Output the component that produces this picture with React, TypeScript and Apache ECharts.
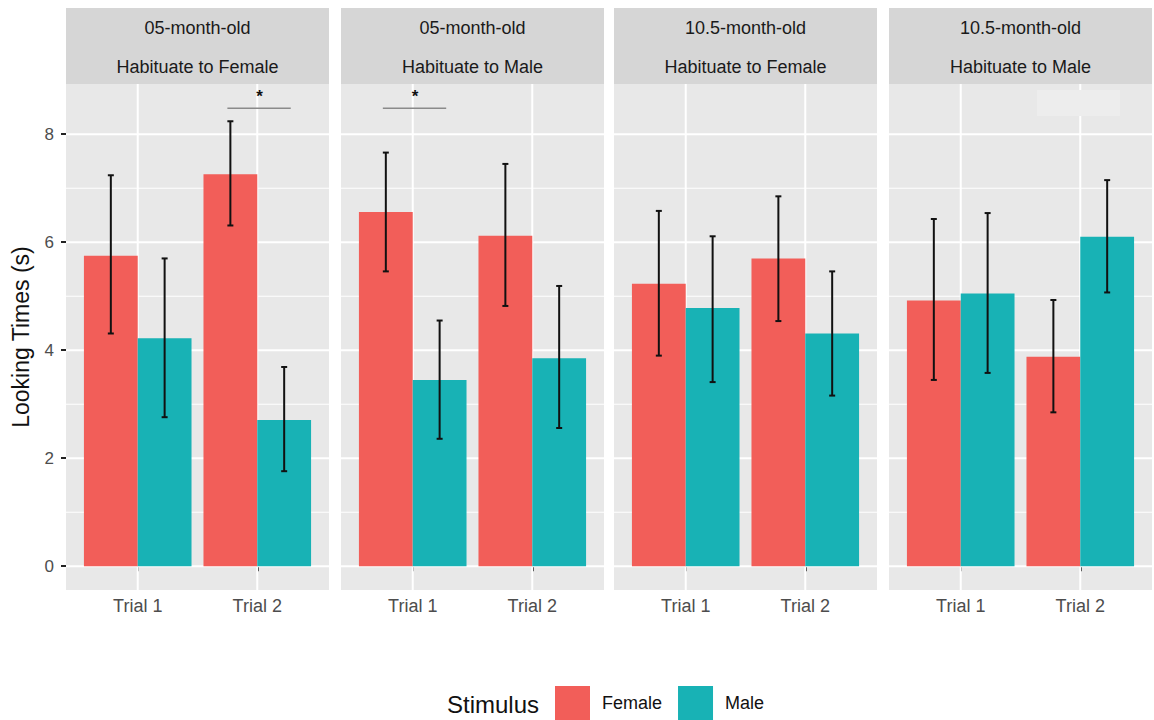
import React, { useEffect, useRef } from "react";
import * as echarts from "echarts";

const ageLabels = ["05-month-old", "05-month-old", "10.5-month-old", "10.5-month-old"];
const habLabels = ["Habituate to Female", "Habituate to Male", "Habituate to Female", "Habituate to Male"];
const trialLabels = ["Trial 1", "Trial 2"];
const trialPositions = [1, 2];
const stimulusNames = ["Female", "Male"];

const femaleMeans = [[5.75, 7.26], [6.56, 6.12], [5.23, 5.7], [4.92, 3.88]];
const femaleLow = [[4.31, 6.31], [5.46, 4.82], [3.9, 4.54], [3.45, 2.85]];
const femaleHigh = [[7.24, 8.24], [7.66, 7.45], [6.58, 6.85], [6.43, 4.93]];
const maleMeans = [[4.22, 2.71], [3.45, 3.85], [4.78, 4.31], [5.05, 6.1]];
const maleLow = [[2.76, 1.76], [2.36, 2.56], [3.41, 3.16], [3.58, 5.07]];
const maleHigh = [[5.7, 3.69], [4.55, 5.19], [6.11, 5.46], [6.54, 7.15]];

const sigPanels = [0, 1];
const sigTrials = [2, 1];
const sigLevel = 8.48;
const sigLabel = "*";

const yMajor = [0, 2, 4, 6, 8];
const yMinor = [1, 3, 5, 7];

const FONT = "Liberation Sans, Arial, sans-serif";
const COLORS = ["#F25E59", "#18B2B5"];
const PANEL_LEFT = [66, 341, 614, 889];
const PANEL_W = 263;
const PANEL_TOP = 84;
const PANEL_BOTTOM = 590;
const STRIP_TOP = 8;

export default function App() {
  const ref = useRef<HTMLDivElement>(null);
  useEffect(() => {
    document.body.style.margin = "0";
    const chart = echarts.init(ref.current!, null, { renderer: "svg" });

    const grids: any[] = [];
    const xAxes: any[] = [];
    const yAxes: any[] = [];
    const series: any[] = [];
    const graphics: any[] = [];

    for (let p = 0; p < 4; p++) {
      grids.push({
        left: PANEL_LEFT[p],
        width: PANEL_W,
        top: PANEL_TOP,
        height: PANEL_BOTTOM - PANEL_TOP,
        show: true,
        backgroundColor: "#E8E8E8",
        borderWidth: 0,
        containLabel: false,
        outerBoundsMode: "none",
      });
      xAxes.push({
        type: "value",
        gridIndex: p,
        min: 0.4,
        max: 2.6,
        axisLine: { show: false },
        splitLine: { show: false },
        axisTick: { show: true, customValues: trialPositions, length: 5, lineStyle: { color: "#222", width: 2 } },
        axisLabel: {
          show: true,
          customValues: trialPositions,
          formatter: (v: number) => trialLabels[Math.round(v) - 1] ?? "",
          fontSize: 18,
          color: "#4D4D4D",
          fontFamily: FONT,
          margin: 7,
        },
      });
      yAxes.push({
        type: "value",
        gridIndex: p,
        min: -0.44,
        max: 8.93,
        axisLine: { show: false },
        splitLine: { show: false },
        axisTick: { show: p === 0, customValues: yMajor, length: 5, lineStyle: { color: "#222", width: 2 } },
        axisLabel: {
          show: p === 0,
          customValues: yMajor,
          fontSize: 17,
          color: "#4D4D4D",
          fontFamily: FONT,
          margin: 12,
        },
        name: p === 0 ? "Looking Times (s)" : "",
        nameLocation: "middle",
        nameGap: 34,
        nameTextStyle: { fontSize: 23, color: "#111", fontFamily: FONT },
      });

      const hLines = [...yMajor.map((v) => [v, 1]), ...yMinor.map((v) => [v, 0])];
      series.push({
        type: "custom",
        xAxisIndex: p,
        yAxisIndex: p,
        z: 1,
        silent: true,
        data: hLines,
        renderItem: (params: any, api: any) => {
          const v = api.value(0);
          const major = api.value(1) === 1;
          const a = api.coord([0.4, v]);
          const b = api.coord([2.6, v]);
          return {
            type: "line",
            shape: { x1: a[0], y1: a[1], x2: b[0], y2: b[1] },
            style: { stroke: "#FFFFFF", lineWidth: major ? 2 : 1 },
          };
        },
      });
      series.push({
        type: "custom",
        xAxisIndex: p,
        yAxisIndex: p,
        z: 1,
        silent: true,
        data: trialPositions.map((t) => [t]),
        renderItem: (params: any, api: any) => {
          const t = api.value(0);
          const a = api.coord([t, -0.44]);
          const b = api.coord([t, 8.93]);
          return {
            type: "line",
            shape: { x1: a[0], y1: a[1], x2: b[0], y2: b[1] },
            style: { stroke: "#FFFFFF", lineWidth: 2 },
          };
        },
      });

      const groups = [
        { means: femaleMeans[p], lo: femaleLow[p], hi: femaleHigh[p], off: -0.225 },
        { means: maleMeans[p], lo: maleLow[p], hi: maleHigh[p], off: 0.225 },
      ];
      groups.forEach((g, gi) => {
        series.push({
          type: "custom",
          name: stimulusNames[gi],
          xAxisIndex: p,
          yAxisIndex: p,
          z: 2,
          itemStyle: { color: COLORS[gi] },
          data: trialPositions.map((t, i) => [t, g.means[i], g.lo[i], g.hi[i]]),
          renderItem: (params: any, api: any) => {
            const x = api.value(0) + g.off;
            const v = api.value(1);
            const lo = api.value(2);
            const hi = api.value(3);
            const tl = api.coord([x - 0.225, v]);
            const br = api.coord([x + 0.225, 0]);
            const top = api.coord([x, hi]);
            const bot = api.coord([x, lo]);
            const cap = 3;
            return {
              type: "group",
              children: [
                {
                  type: "rect",
                  shape: { x: tl[0], y: tl[1], width: br[0] - tl[0], height: br[1] - tl[1] },
                  style: { fill: COLORS[gi] },
                },
                {
                  type: "line",
                  shape: { x1: top[0], y1: top[1], x2: bot[0], y2: bot[1] },
                  style: { stroke: "#111", lineWidth: 2 },
                },
                {
                  type: "line",
                  shape: { x1: top[0] - cap, y1: top[1], x2: top[0] + cap, y2: top[1] },
                  style: { stroke: "#111", lineWidth: 2 },
                },
                {
                  type: "line",
                  shape: { x1: bot[0] - cap, y1: bot[1], x2: bot[0] + cap, y2: bot[1] },
                  style: { stroke: "#111", lineWidth: 2 },
                },
              ],
            };
          },
        });
      });

      const si = sigPanels.indexOf(p);
      if (si >= 0) {
        series.push({
          type: "custom",
          xAxisIndex: p,
          yAxisIndex: p,
          z: 3,
          silent: true,
          data: [[sigTrials[si], sigLevel]],
          renderItem: (params: any, api: any) => {
            const t = api.value(0);
            const y = api.value(1);
            const a = api.coord([t - 0.25, y]);
            const b = api.coord([t + 0.28, y]);
            const s = api.coord([t + 0.02, y]);
            return {
              type: "group",
              children: [
                {
                  type: "line",
                  shape: { x1: a[0], y1: a[1], x2: b[0], y2: b[1] },
                  style: { stroke: "#8A8A8A", lineWidth: 1.5 },
                },
                {
                  type: "text",
                  x: s[0],
                  y: s[1] - 3,
                  style: {
                    text: sigLabel,
                    fill: "#111",
                    fontSize: 17,
                    fontWeight: "bold",
                    fontFamily: FONT,
                    align: "center",
                    verticalAlign: "bottom",
                  },
                },
              ],
            };
          },
        });
      }

      graphics.push({
        type: "rect",
        shape: { x: PANEL_LEFT[p], y: STRIP_TOP, width: PANEL_W, height: PANEL_TOP - STRIP_TOP },
        style: { fill: "#D6D6D6" },
      });
      graphics.push({
        type: "text",
        x: PANEL_LEFT[p] + PANEL_W / 2,
        y: 28,
        style: { text: ageLabels[p], fill: "#1A1A1A", fontSize: 18, fontFamily: FONT, align: "center", verticalAlign: "middle" },
      });
      graphics.push({
        type: "text",
        x: PANEL_LEFT[p] + PANEL_W / 2,
        y: 67,
        style: { text: habLabels[p], fill: "#1A1A1A", fontSize: 18, fontFamily: FONT, align: "center", verticalAlign: "middle" },
      });
    }

    graphics.push({
      type: "rect",
      shape: { x: 1037, y: 90, width: 83, height: 26 },
      style: { fill: "#EDEDED" },
      z: 10,
    });

    graphics.push({
      type: "text",
      x: 539,
      y: 704,
      style: { text: "Stimulus", fill: "#111", fontSize: 24, fontFamily: FONT, align: "right", verticalAlign: "middle" },
    });

    chart.setOption({
      animation: false,
      backgroundColor: "#FFFFFF",
      grid: grids,
      xAxis: xAxes,
      yAxis: yAxes,
      series,
      graphic: graphics,
      legend: {
        left: 555,
        top: 686,
        padding: 0,
        orient: "horizontal",
        itemWidth: 35,
        itemHeight: 34,
        itemGap: 16,
        data: stimulusNames.map((n, i) => ({ name: n, icon: "rect", itemStyle: { color: COLORS[i] } })),
        textStyle: { fontSize: 18, color: "#111", fontFamily: FONT, padding: [0, 0, 0, 7] },
        selectedMode: false,
      },
    });
    return () => chart.dispose();
  }, []);
  return <div ref={ref} style={{ width: 1154, height: 720 }} />;
}
